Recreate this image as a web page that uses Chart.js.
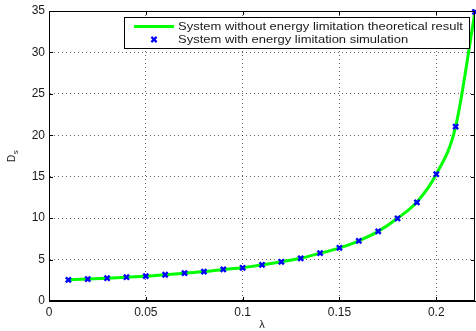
<!DOCTYPE html>
<html>
<head>
<meta charset="utf-8">
<script src="https://cdn.jsdelivr.net/npm/chart.js@4.4.1/dist/chart.umd.min.js"></script>
<style>
  html, body { margin: 0; padding: 0; background: #fff; }
  #wrap { width: 476px; height: 331px; }
</style>
</head>
<body>
<div id="wrap"><canvas id="chart" width="476" height="331"></canvas></div>
<script>
'use strict';

/* ── data ─────────────────────────────────────────────── */
const LAMBDA     = [0.01, 0.02, 0.03, 0.04, 0.05, 0.06, 0.07, 0.08, 0.09, 0.10, 0.11,
                    0.12, 0.13, 0.14, 0.15, 0.16, 0.17, 0.18, 0.19, 0.20, 0.21, 0.22];
const THEORY     = [2.55, 2.65, 2.75, 2.87, 3.0, 3.16, 3.35, 3.55, 3.8, 4.02, 4.37,
                    4.74, 5.16, 5.76, 6.42, 7.27, 8.4, 9.98, 11.95, 15.3, 21.05, 34.9];
const SIMULATION = [2.55, 2.65, 2.75, 2.87, 3.0, 3.17, 3.36, 3.55, 3.82, 4.01, 4.37,
                    4.73, 5.14, 5.78, 6.42, 7.26, 8.4, 9.96, 11.9, 15.3, 21.05, 34.9];
const X_TICKS    = [0, 0.05, 0.1, 0.15, 0.2];
const Y_TICKS    = [0, 5, 10, 15, 20, 25, 30, 35];
const LABELS     = ['System without energy limitation theoretical result',
                    'System with energy limitation simulation'];
const X_TITLE    = 'λ';
const Y_TITLE    = 'D';
const Y_SUB      = 's';

const FONT = '"Liberation Sans", Arial, sans-serif';
const INK  = '#1a1a1a';

/* ── plugin: box, inward ticks, titles, legend ────────── */
const matlabFrame = {
  id: 'matlabFrame',
  afterDraw(chart) {
    const { ctx, chartArea: a, scales: { x, y } } = chart;
    ctx.save();
    ctx.strokeStyle = '#000';
    ctx.lineWidth = 1;
    ctx.strokeRect(a.left + 0.5, a.top + 0.5, a.right - a.left - 1, a.bottom - a.top - 1);

    // inward tick marks
    ctx.beginPath();
    X_TICKS.forEach(v => {
      const px = Math.round(x.getPixelForValue(v)) + 0.5;
      ctx.moveTo(px, a.bottom); ctx.lineTo(px, a.bottom - 4);
      ctx.moveTo(px, a.top);    ctx.lineTo(px, a.top + 4);
    });
    Y_TICKS.forEach(v => {
      const py = Math.round(y.getPixelForValue(v)) + 0.5;
      ctx.moveTo(a.left, py);  ctx.lineTo(a.left + 4, py);
      ctx.moveTo(a.right, py); ctx.lineTo(a.right - 4, py);
    });
    ctx.stroke();

    // axis titles
    ctx.fillStyle = INK;
    ctx.font = `11px ${FONT}`;
    ctx.textAlign = 'center';
    ctx.textBaseline = 'middle';
    ctx.fillText(X_TITLE, (a.left + a.right) / 2, 325);

    ctx.translate(12, 158);
    ctx.rotate(-Math.PI / 2);
    ctx.textAlign = 'left';
    ctx.font = `10px ${FONT}`;
    ctx.fillText(Y_TITLE, -4, 0);
    const dw = ctx.measureText(Y_TITLE).width;
    ctx.font = `8px ${FONT}`;
    ctx.fillText(Y_SUB, -4 + dw + 0.5, 4);
    ctx.restore();

    // legend
    const bx = 124.5, by = 17.5, bw = 345, bh = 31;
    ctx.save();
    ctx.fillStyle = '#fff';
    ctx.fillRect(bx, by, bw, bh);
    ctx.strokeStyle = '#000';
    ctx.lineWidth = 1;
    ctx.strokeRect(bx, by, bw, bh);

    const ds = chart.data.datasets;
    const theo = ds.find(d => d.id === 'theory');
    const sim  = ds.find(d => d.id === 'sim');
    ctx.strokeStyle = theo.borderColor;
    ctx.lineWidth = theo.borderWidth;
    ctx.beginPath();
    ctx.moveTo(134, 26.5); ctx.lineTo(174, 26.5);
    ctx.stroke();

    ctx.strokeStyle = sim.borderColor;
    ctx.lineWidth = 2.2;
    const mx = 154, my = 39.5, r = 2.6;
    ctx.beginPath();
    ctx.moveTo(mx - r, my - r); ctx.lineTo(mx + r, my + r);
    ctx.moveTo(mx + r, my - r); ctx.lineTo(mx - r, my + r);
    ctx.stroke();

    // reference text is horizontally stretched, so stretch the context
    ctx.fillStyle = INK;
    ctx.font = `11px ${FONT}`;
    ctx.textAlign = 'left';
    ctx.textBaseline = 'middle';
    ctx.translate(178, 0);
    ctx.scale(1.18, 1);
    ctx.fillText(theo.label, 0, 26.5);
    ctx.fillText(sim.label, 0, 40);
    ctx.restore();
  }
};

/* ── chart ────────────────────────────────────────────── */
const tickFont = { family: FONT, size: 12 };

new Chart(document.getElementById('chart'), {
  type: 'line',
  data: {
    datasets: [
      {
        id: 'sim',
        label: LABELS[1],
        data: LAMBDA.map((l, i) => ({ x: l, y: SIMULATION[i] })),
        showLine: false,
        pointStyle: 'crossRot',
        pointRadius: 3.6,
        borderColor: '#0000ff',
        backgroundColor: '#0000ff',
        pointBorderWidth: 2.4,
        clip: 2,
        order: 0
      },
      {
        id: 'theory',
        label: LABELS[0],
        data: LAMBDA.map((l, i) => ({ x: l, y: THEORY[i] })),
        borderColor: '#00ff00',
        borderWidth: 3,
        pointRadius: 0,
        cubicInterpolationMode: 'monotone',
        fill: false,
        order: 1
      }
    ]
  },
  options: {
    responsive: false,
    animation: false,
    layout: { autoPadding: false, padding: { top: 11, right: 1, left: 0, bottom: 0 } },
    plugins: { legend: { display: false }, tooltip: { enabled: false } },
    scales: {
      x: {
        type: 'linear',
        min: 0, max: 0.22,
        afterBuildTicks: s => { s.ticks = X_TICKS.map(v => ({ value: v })); },
        afterFit: s => { s.height = 30; s.paddingLeft = 0; s.paddingRight = 0; },
        ticks: { color: INK, font: tickFont, padding: 4, maxRotation: 0, callback: v => String(v) },
        grid: { color: 'rgba(0,0,0,0.6)', lineWidth: 1, drawTicks: false },
        border: { display: true, color: '#000', width: 1, dash: [1, 3] }
      },
      y: {
        type: 'linear',
        min: 0, max: 35,
        afterBuildTicks: s => { s.ticks = Y_TICKS.map(v => ({ value: v })); },
        afterFit: s => { s.width = 49; s.paddingTop = 0; s.paddingBottom = 0; },
        ticks: { color: INK, font: tickFont, padding: 4, callback: v => String(v) },
        grid: { color: 'rgba(0,0,0,0.6)', lineWidth: 1, drawTicks: false },
        border: { display: true, color: '#000', width: 1, dash: [1, 3] }
      }
    }
  },
  plugins: [matlabFrame]
});
</script>
</body>
</html>
